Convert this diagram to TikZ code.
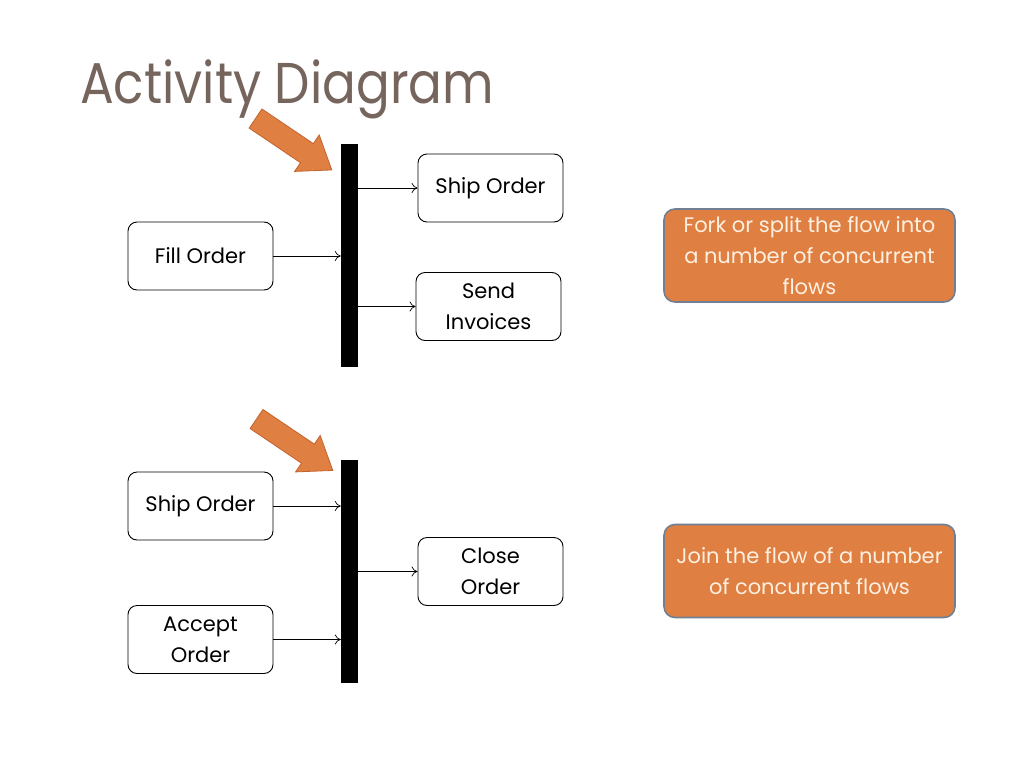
\documentclass[tikz,border=0pt]{standalone}
\usepackage{fontspec}
\setmainfont{Poppins}
\usetikzlibrary{arrows.meta}
\definecolor{titlec}{RGB}{118,101,93}
\definecolor{orng}{RGB}{224,127,66}
\definecolor{orngdark}{RGB}{196,100,45}
\definecolor{callbd}{RGB}{112,128,146}
\definecolor{calltx}{RGB}{253,240,225}
\tikzset{
  actbox/.style={draw, rounded corners=9pt, line width=0.9pt, minimum width=145pt, minimum height=68pt, align=center, inner sep=0pt, font=\fontsize{21}{31}\selectfont},
  forkbar/.style={fill=black, draw=none, minimum width=17pt, minimum height=223pt, inner sep=0pt},
  flow/.style={-{To[length=6pt,width=10pt]}, line width=0.7pt},
  callout/.style={fill=orng, draw=callbd, line width=1.6pt, rounded corners=11pt, minimum width=291pt, minimum height=93pt, align=center, inner sep=0pt, text=calltx, font=\fontsize{21}{31}\selectfont},
  pointer/.style={fill=orng, draw=orngdark, line width=0.8pt, line join=miter}
}
\newcommand{\blockarrow}[1]{%
  \begin{scope}[shift={#1}, rotate=-34]
    \path[pointer] (0,-11.5) -- (62,-11.5) -- (62,-22) -- (92,0) -- (62,22) -- (62,11.5) -- (0,11.5) -- cycle;
  \end{scope}}
\begin{document}
\begin{tikzpicture}[x=1pt,y=-1pt]
\useasboundingbox (0,0) rectangle (1024,768);
\node[anchor=base west, text=titlec, font=\fontsize{50}{54}\selectfont, inner sep=0pt] (title) at (80,103) {\scalebox{1.0}[1.15]{Activity Diagram}};
% top fork
\node[forkbar] (bar1) at (349.5,255.5) {};
\blockarrow{(255.5,118.5)}
\node[actbox] (ship1) at (490.5,188) {Ship Order};
\node[actbox] (fill) at (200.5,256) {Fill Order};
\node[actbox] (send) at (488.5,306.5) {Send\\Invoices};
\draw[flow] (ship1.west -| bar1.east) -- (ship1.west);
\draw[flow] (fill.east) -- (fill.east -| bar1.west);
\draw[flow] (send.west -| bar1.east) -- (send.west);
\node[callout] (c1) at (809.5,255.5) {Fork or split the flow into\\a number of concurrent\\flows};
% bottom join
\node[forkbar] (bar2) at (349.5,571.5) {};
\blockarrow{(256.5,419)}
\node[actbox] (ship2) at (200.5,506) {Ship Order};
\node[actbox] (accept) at (200.5,639.5) {Accept\\Order};
\node[actbox] (close) at (490.5,571.5) {Close\\Order};
\draw[flow] (ship2.east) -- (ship2.east -| bar2.west);
\draw[flow] (accept.east) -- (accept.east -| bar2.west);
\draw[flow] (close.west -| bar2.east) -- (close.west);
\node[callout] (c2) at (809.5,571) {Join the flow of a number\\of concurrent flows};
\end{tikzpicture}
\end{document}
